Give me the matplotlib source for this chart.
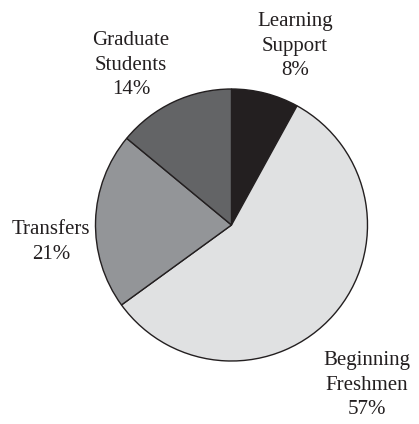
import matplotlib
matplotlib.use('Agg')
import matplotlib.pyplot as plt

categories = ['Learning\nSupport', 'Beginning\nFreshmen', 'Transfers', 'Graduate\nStudents']
shares = [8, 57, 21, 14]
colors = ['#231f20', '#e0e1e2', '#939598', '#636466']

# label anchor positions in pixels (x, y from top)
label_pos = [(295, 46), (367, 385), (51, 242), (131, 65)]

W, H = 419, 424
fig = plt.figure(figsize=(W / 100, H / 100), dpi=100)
ax = fig.add_axes([0, 0, 1, 1])

ax.pie(shares, colors=colors, startangle=90, counterclock=False,
       center=(231.5, H - 225), radius=136,
       wedgeprops=dict(edgecolor='#231f20', linewidth=1.0))

# pie resets the limits, so set them afterwards
ax.set_xlim(0, W)
ax.set_ylim(0, H)
ax.set_aspect('equal')
ax.axis('off')

for cat, val, (x, y) in zip(categories, shares, label_pos):
    ax.text(x, H - y, f'{cat}\n{val}%', ha='center', va='center',
            fontsize=15, family='Liberation Serif', color='#231f20',
            linespacing=1.42)

plt.savefig('out.png', dpi=100)
